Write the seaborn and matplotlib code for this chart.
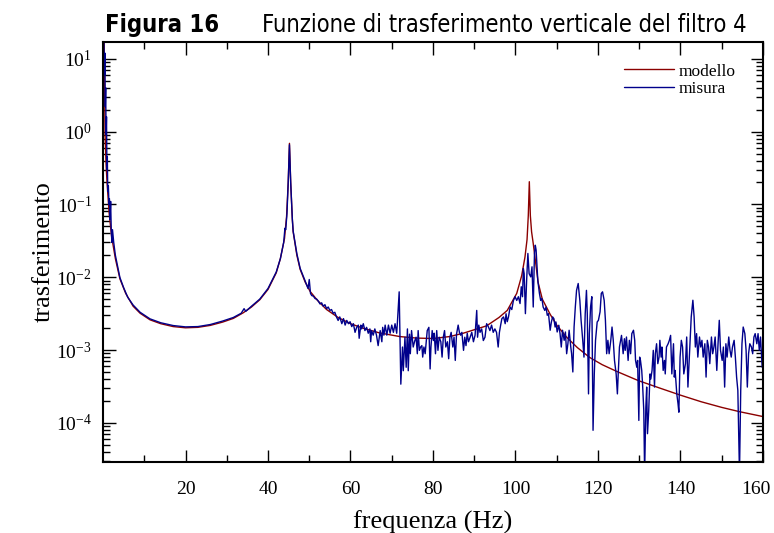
"""
Figura 16 - funzione di trasferimento verticale del filtro 4 (modello vs misura).
"""

import matplotlib

matplotlib.use("Agg")

import matplotlib.pyplot as plt
import numpy as np
import pandas as pd
import seaborn as sns
from matplotlib import font_manager
from matplotlib.ticker import FixedLocator, LogLocator, NullFormatter
from matplotlib.transforms import ScaledTranslation

# ---------------------------------------------------------------------------
# Data
# ---------------------------------------------------------------------------
MODELLO_HZ = [
    0.25, 0.5, 0.75, 1.0, 1.5, 2.1, 3.0, 4.1, 5.5, 7.3,
    9.0, 11.4, 14.0, 17.0, 20.0, 23.0, 26.0, 29.0, 31.6, 34.0,
    36.0, 38.0, 40.0, 42.0, 43.0, 44.0, 44.5, 44.9, 45.2, 45.5,
    45.9, 46.1, 47.0, 47.8, 49.0, 50.2, 52.0, 54.2, 57.0, 60.0,
    63.0, 67.0, 72.0, 76.0, 80.0, 84.0, 87.3, 90.0, 93.0, 96.0,
    98.0, 100.3, 101.5, 102.3, 102.8, 103.1, 103.35, 103.6, 103.9, 104.3,
    105.5, 106.5, 108.4, 110.0, 112.4, 115.0, 118.0, 121.0, 124.5, 129.8,
    135.0, 140.0, 145.0, 150.0, 154.4, 160.0,
]
MODELLO_VAL = [
    30, 0.9, 0.35, 0.19, 0.075, 0.036, 0.018, 9.5e-3, 6.0e-3, 4.0e-3,
    3.2e-3, 2.6e-3, 2.3e-3, 2.1e-3, 2.02e-3, 2.05e-3, 2.18e-3, 2.42e-3, 2.72e-3, 3.25e-3,
    3.9e-3, 4.9e-3, 6.8e-3, 0.0115, 0.018, 0.034, 0.068, 0.2, 0.69, 0.2,
    0.062, 0.042, 0.02, 0.0128, 8.6e-3, 6.4e-3, 4.8e-3, 3.6e-3, 2.8e-3, 2.3e-3,
    2.0e-3, 1.72e-3, 1.53e-3, 1.46e-3, 1.44e-3, 1.53e-3, 1.7e-3, 1.9e-3, 2.15e-3, 2.8e-3,
    3.5e-3, 6.0e-3, 0.0105, 0.019, 0.033, 0.07, 0.205, 0.07, 0.042, 0.029,
    8.4e-3, 5.0e-3, 3.1e-3, 2.2e-3, 1.5e-3, 1.08e-3, 7.9e-4, 6.3e-4, 5.1e-4, 3.8e-4,
    3.0e-4, 2.4e-4, 1.95e-4, 1.63e-4, 1.42e-4, 1.22e-4,
]

MISURA_HZ = [
    # 0 - 55 Hz
    0.2, 0.35, 0.45, 0.55, 0.65, 0.75, 0.85, 0.95, 1.05, 1.15,
    1.3, 1.45, 1.55, 1.7, 1.85, 2.0, 2.15, 2.3, 2.6, 3.0,
    3.5, 4.1, 5.0, 6.0, 7.3, 9.0, 11.4, 14.0, 17.0, 20.0,
    23.0, 26.0, 29.0, 31.6, 33.5, 34.2, 34.6, 36.0, 38.0, 40.0,
    42.0, 43.0, 43.8, 44.1, 44.3, 44.6, 44.9, 45.2, 45.5, 45.9,
    46.1, 47.0, 47.8, 49.0, 49.7, 50.0, 50.3, 50.6, 51.0, 51.4,
    51.8, 52.2, 52.6, 53.0, 53.4, 53.8, 54.2, 54.6,
    # 55 - 101 Hz
    55.0, 55.4, 55.8, 56.2, 56.6, 57.0, 57.4, 57.9, 58.3, 58.7,
    59.1, 59.5, 59.9, 60.3, 60.7, 61.1, 61.5, 61.9, 62.1, 62.5,
    62.7, 63.1, 63.5, 63.9, 64.3, 64.7, 64.9, 65.1, 65.5, 65.9,
    66.3, 66.7, 67.2, 67.6, 67.8, 68.1, 68.4, 68.8, 69.2, 69.6,
    70.0, 70.4, 70.8, 71.2, 71.4, 71.8, 72.0, 72.2, 72.6, 72.8,
    73.2, 73.5, 73.8, 74.0, 74.3, 74.5, 74.8, 75.2, 75.6, 75.9,
    76.2, 76.4, 76.7, 77.0, 77.3, 77.5, 77.8, 78.1, 78.3, 78.6,
    79.0, 79.3, 79.5, 79.8, 80.1, 80.3, 80.6, 80.9, 81.2, 81.5,
    81.9, 82.2, 82.5, 82.8, 83.1, 83.5, 83.8, 84.1, 84.4, 84.8,
    85.1, 85.4, 85.7, 86.1, 86.4, 86.7, 87.0, 87.4, 87.7, 88.0,
    88.3, 88.6, 89.0, 89.4, 89.8, 90.2, 90.6, 90.8, 91.1, 91.4,
    91.8, 92.2, 92.6, 93.0, 93.4, 93.8, 94.2, 94.6, 95.0, 95.4,
    95.8, 96.1, 96.4, 96.7, 97.1, 97.5, 97.7, 98.0, 98.3, 98.7,
    99.1, 99.5, 99.9, 100.3, 100.7,
    # 101 - 125 Hz
    101.1, 101.4, 101.7, 101.9, 102.1, 102.4, 102.7, 103.0, 103.3, 103.7,
    104.0, 104.3, 104.6, 104.8, 105.0, 105.4, 105.8, 106.1, 106.4, 106.7,
    107.1, 107.4, 107.7, 108.0, 108.4, 108.7, 109.0, 109.3, 109.6, 109.8,
    110.1, 110.5, 110.8, 111.1, 111.4, 111.8, 112.1, 112.4, 112.7, 113.0,
    113.4, 113.6, 113.9, 114.2, 114.5, 114.8, 115.2, 115.6, 115.9, 116.3,
    116.6, 116.9, 117.2, 117.4, 117.7, 117.9, 118.2, 118.5, 118.8, 119.1,
    119.4, 119.8, 120.1, 120.5, 120.8, 121.1, 121.5, 121.8, 122.1, 122.4,
    122.7, 123.1, 123.4, 123.7, 124.0, 124.4, 124.7, 124.9, 125.2,
    # 125 - 160 Hz
    125.7, 126.1, 126.4, 126.6, 126.9, 127.3, 127.6, 127.9, 128.2, 128.6,
    128.9, 129.1, 129.4, 129.6, 129.9, 130.1, 130.3, 130.6, 130.8, 131.1,
    131.3, 131.6, 131.8, 132.0, 132.3, 132.6, 132.8, 133.1, 133.4, 133.7,
    133.9, 134.2, 134.5, 134.8, 135.0, 135.3, 135.5, 135.8, 136.1, 136.3,
    136.6, 137.0, 137.3, 137.6, 137.9, 138.3, 138.5, 138.7, 139.1, 139.4,
    139.6, 139.9, 140.2, 140.5, 140.8, 141.2, 141.5, 141.8, 142.1, 142.3,
    142.6, 143.0, 143.3, 143.6, 143.9, 144.2, 144.6, 144.9, 145.2, 145.5,
    145.9, 146.2, 146.5, 146.8, 147.1, 147.5, 147.8, 148.1, 148.4, 148.8,
    149.1, 149.4, 149.7, 150.1, 150.4, 150.7, 151.0, 151.3, 151.7, 152.0,
    152.3, 152.6, 153.0, 153.3, 153.6, 153.9, 154.3, 154.6, 154.9, 155.2,
    155.6, 155.9, 156.2, 156.5, 156.8, 157.2, 157.5, 157.8, 158.1, 158.5,
    158.8, 159.1, 159.4, 159.8,
]
MISURA_VAL = [
    # 0 - 55 Hz
    20, 6, 12, 2.2, 4.0, 0.9, 1.6, 0.3, 0.45, 0.15,
    0.18, 0.1, 0.12, 0.062, 0.11, 0.045, 0.03, 0.045, 0.03, 0.02,
    0.0145, 0.0099, 7.2e-3, 5.3e-3, 4.15e-3, 3.3e-3, 2.68e-3, 2.37e-3, 2.17e-3, 2.08e-3,
    2.1e-3, 2.24e-3, 2.5e-3, 2.8e-3, 3.2e-3, 3.7e-3, 3.4e-3, 4.0e-3, 5.0e-3, 7.0e-3,
    0.0118, 0.018, 0.03, 0.047, 0.045, 0.075, 0.2, 0.66, 0.2, 0.063,
    0.043, 0.021, 0.0132, 8.9e-3, 7.0e-3, 9.3e-3, 6.0e-3, 5.6e-3, 5.5e-3, 5.1e-3,
    5.0e-3, 4.7e-3, 4.3e-3, 4.45e-3, 4.0e-3, 4.2e-3, 3.7e-3, 3.9e-3,
    # 55 - 101 Hz
    3.5e-3, 3.6e-3, 3.2e-3, 3.3e-3, 2.85e-3, 2.55e-3, 2.85e-3, 2.3e-3, 2.7e-3, 2.2e-3,
    2.55e-3, 2.3e-3, 2.45e-3, 2.1e-3, 2.3e-3, 1.75e-3, 2.05e-3, 2.2e-3, 1.45e-3, 2.2e-3,
    1.95e-3, 2.3e-3, 1.85e-3, 2.05e-3, 1.7e-3, 1.95e-3, 1.3e-3, 1.85e-3, 1.6e-3, 1.95e-3,
    1.6e-3, 1.15e-3, 1.85e-3, 1.3e-3, 2.05e-3, 1.6e-3, 2.2e-3, 1.6e-3, 2.2e-3, 1.7e-3,
    2.2e-3, 1.75e-3, 2.3e-3, 1.7e-3, 2.55e-3, 6.3e-3, 1.5e-3, 3.4e-4, 1.1e-3, 5.2e-4,
    1.5e-3, 5.8e-4, 1.95e-3, 5.2e-4, 1.65e-3, 8.9e-4, 1.85e-3, 1.1e-3, 1.35e-3, 1.5e-3,
    8.9e-4, 1.85e-3, 9.9e-4, 1.1e-3, 1.15e-3, 8.0e-4, 1.1e-3, 8.9e-4, 1.2e-3, 1.85e-3,
    2.05e-3, 5.5e-4, 1.1e-3, 1.85e-3, 1.35e-3, 1.7e-3, 8.9e-4, 1.85e-3, 9.9e-4, 1.5e-3,
    1.3e-3, 8.0e-4, 1.5e-3, 1.85e-3, 1.1e-3, 1.3e-3, 7.6e-4, 1.5e-3, 1.75e-3, 1.1e-3,
    1.5e-3, 7.2e-4, 1.65e-3, 2.2e-3, 1.75e-3, 1.6e-3, 1.75e-3, 9.9e-4, 1.5e-3, 1.15e-3,
    1.7e-3, 1.3e-3, 1.5e-3, 1.75e-3, 1.3e-3, 1.6e-3, 3.5e-3, 1.5e-3, 2.2e-3, 1.75e-3,
    1.95e-3, 1.35e-3, 1.5e-3, 2.3e-3, 2.1e-3, 1.85e-3, 2.2e-3, 1.75e-3, 1.95e-3, 1.75e-3,
    1.1e-3, 1.75e-3, 2.2e-3, 2.7e-3, 2.85e-3, 2.3e-3, 3.15e-3, 2.45e-3, 2.85e-3, 3.9e-3,
    3.6e-3, 4.8e-3, 5.4e-3, 4.8e-3, 5.4e-3,
    # 101 - 125 Hz
    4.35e-3, 7.4e-3, 5.4e-3, 0.0132, 0.0112, 3.16e-3, 9.1e-3, 0.0212, 0.0112, 0.0101,
    0.0139, 3.9e-3, 0.0212, 0.0275, 0.0235, 9.1e-3, 6.0e-3, 4.8e-3, 5.1e-3, 3.9e-3,
    3.5e-3, 3.9e-3, 3.0e-3, 3.16e-3, 1.87e-3, 2.43e-3, 2.85e-3, 2.7e-3, 2.07e-3, 2.43e-3,
    1.77e-3, 2.19e-3, 1.68e-3, 1.1e-3, 1.87e-3, 1.36e-3, 1.77e-3, 8.9e-4, 1.22e-3, 1.87e-3,
    1.1e-3, 8.9e-4, 5.0e-4, 2.07e-3, 3.9e-3, 6.6e-3, 8.2e-3, 4.8e-3, 2.56e-3, 1.36e-3,
    8.0e-4, 3.16e-3, 6.6e-3, 3.16e-3, 2.5e-4, 1.68e-3, 3.9e-3, 5.4e-3, 7.9e-5, 4.7e-4,
    1.36e-3, 2.43e-3, 2.56e-3, 3.34e-3, 6.0e-3, 6.3e-3, 4.8e-3, 2.56e-3, 8.9e-4, 1.36e-3,
    8.9e-4, 1.36e-3, 2.07e-3, 1.36e-3, 7.2e-4, 4.7e-4, 2.5e-4, 4.7e-4, 1.1e-3,
    # 125 - 160 Hz
    1.59e-3, 8.9e-4, 1.43e-3, 9.9e-4, 1.51e-3, 7.2e-4, 1.36e-3, 8.9e-4, 1.68e-3, 1.87e-3,
    1.36e-3, 7.2e-4, 5.8e-4, 7.2e-4, 1.08e-4, 8.0e-4, 7.2e-4, 5.25e-4, 3.44e-4, 1.48e-4,
    2e-5, 1.64e-4, 3.1e-4, 7.1e-5, 1.48e-4, 4.7e-4, 4.0e-4, 5.25e-4, 9.9e-4, 3.1e-4,
    8.9e-4, 1.22e-3, 6.5e-4, 8.0e-4, 1.36e-3, 8.0e-4, 1.1e-3, 5.25e-4, 7.2e-4, 4.7e-4,
    1.1e-3, 1.22e-3, 1.36e-3, 1.59e-3, 4.7e-4, 1.22e-3, 4.25e-4, 5.25e-4, 2.5e-4, 1.83e-4,
    1.4e-4, 8.0e-4, 1.36e-3, 1.1e-3, 4.7e-4, 6.5e-4, 1.51e-3, 3.1e-4, 7.2e-4, 1.22e-3,
    2.85e-3, 4.83e-3, 2.85e-3, 1.1e-3, 1.68e-3, 8.0e-4, 1.51e-3, 1.1e-3, 1.36e-3, 8.0e-4,
    1.22e-3, 4.25e-4, 1.36e-3, 1.1e-3, 6.5e-4, 1.51e-3, 8.9e-4, 1.1e-3, 1.51e-3, 5.25e-4,
    1.22e-3, 2.56e-3, 9.9e-4, 7.2e-4, 1.1e-3, 3.1e-4, 1.22e-3, 8.0e-4, 1.51e-3, 9.9e-4,
    8.0e-4, 1.1e-3, 1.36e-3, 8.0e-4, 4.25e-4, 2.79e-4, 2e-5, 2.79e-4, 1.22e-3, 2.07e-3,
    1.68e-3, 9.9e-4, 3.1e-4, 8.9e-4, 1.22e-3, 1.1e-3, 8.9e-4, 1.51e-3, 1.68e-3, 1.22e-3,
    1.68e-3, 9.9e-4, 1.51e-3, 5.8e-4,
]

X_TICKS = [20, 40, 60, 80, 100, 120, 140, 160]
X_MINOR = [10, 30, 50, 70, 90, 110, 130, 150]

TITLE_NUM = "Figura 16"
TITLE_TXT = "Funzione di trasferimento verticale del filtro 4"

RED = "#8b0000"
BLUE = "#00008b"


def pick_narrow_font() -> tuple[str, str]:
    names = {f.name for f in font_manager.fontManager.ttflist}
    if "Liberation Sans Narrow" in names:
        return "Liberation Sans Narrow", "normal"
    return "DejaVu Sans", "condensed"


def main() -> None:
    assert len(MODELLO_HZ) == len(MODELLO_VAL)
    assert len(MISURA_HZ) == len(MISURA_VAL)

    sns.set_theme(style="ticks")
    plt.rcParams["font.family"] = ["Liberation Serif", "DejaVu Serif"]
    plt.rcParams["mathtext.fontset"] = "custom"
    plt.rcParams["mathtext.rm"] = "Liberation Serif"
    plt.rcParams["mathtext.it"] = "Liberation Serif:italic"
    plt.rcParams["mathtext.default"] = "regular"
    plt.rcParams["text.color"] = "black"
    plt.rcParams["axes.labelcolor"] = "black"
    plt.rcParams["xtick.color"] = "black"
    plt.rcParams["ytick.color"] = "black"

    modello = pd.DataFrame({"freq": MODELLO_HZ, "trasf": MODELLO_VAL})
    misura = pd.DataFrame({"freq": MISURA_HZ, "trasf": MISURA_VAL})

    fig = plt.figure(figsize=(7.74, 5.33), dpi=100)
    ax = fig.add_axes([103 / 774, 71 / 533, 660 / 774, 420 / 533])

    sns.lineplot(data=modello, x="freq", y="trasf", ax=ax, color=RED, lw=1.0,
                 label="modello", estimator=None, sort=False)
    sns.lineplot(data=misura, x="freq", y="trasf", ax=ax, color=BLUE, lw=1.0,
                 label="misura", estimator=None, sort=False)

    ax.set_yscale("log")
    ax.set_xlim(0, 160)
    ax.set_ylim(2.9e-5, 17)
    ax.set_xticks(X_TICKS)
    ax.xaxis.set_minor_locator(FixedLocator(X_MINOR))
    ax.yaxis.set_major_locator(LogLocator(base=10, numticks=20))
    ax.yaxis.set_minor_locator(LogLocator(base=10, subs=np.arange(2, 10), numticks=20))
    ax.yaxis.set_minor_formatter(NullFormatter())

    ax.tick_params(which="both", direction="in", top=True, right=True,
                   colors="black", width=1.0)
    ax.tick_params(which="major", length=9, labelsize=14)
    ax.tick_params(which="minor", length=5)
    ax.tick_params(axis="x", which="major", pad=14)
    ax.tick_params(axis="y", which="major", pad=8)
    for spine in ax.spines.values():
        spine.set_color("black")
        spine.set_linewidth(1.5)

    # last x label sits at the figure edge: nudge it inwards a little
    last = ax.get_xticklabels()[-1]
    last.set_transform(last.get_transform() + ScaledTranslation(-5 / 72, 0, fig.dpi_scale_trans))

    ax.set_xlabel("frequenza (Hz)", fontsize=19, labelpad=9)
    ax.set_ylabel("trasferimento", fontsize=19, labelpad=1)

    ax.legend(loc="upper right", bbox_to_anchor=(0.958, 0.949), frameon=False,
              fontsize=12.5, handlelength=2.9, handletextpad=0.25,
              labelspacing=0.05, borderpad=0, borderaxespad=0)

    narrow, stretch = pick_narrow_font()
    y_title = 1 - 31.7 / 533
    fig.text(105 / 774, y_title, TITLE_NUM, family=narrow, stretch=stretch,
             weight="bold", fontsize=17, va="baseline", ha="left", color="black")
    fig.text(262 / 774, y_title, TITLE_TXT, family=narrow, stretch=stretch,
             fontsize=17, va="baseline", ha="left", color="black")

    fig.savefig("out.png", dpi=100)
    plt.close(fig)


if __name__ == "__main__":
    main()
